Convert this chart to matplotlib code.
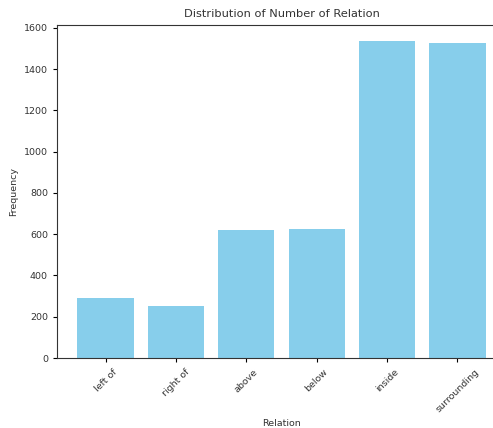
import matplotlib
matplotlib.use('Agg')
import matplotlib.pyplot as plt

# ----------------- Data -----------------
relations = ['left of', 'right of', 'above', 'below', 'inside', 'surrounding']
counts = [290, 254, 618, 624, 1537, 1527]

# ----------------- Plot -----------------
W, H = 493, 428
fig = plt.figure(figsize=(W / 100, H / 100), dpi=100)
# axes runs off the right edge, like the cropped screenshot
ax = fig.add_axes([57 / W, (H - 358) / H, (506 - 57) / W, (358 - 25) / H])

ax.bar(relations, counts, color='skyblue')
ax.set_title('Distribution of Number of Relation', fontsize=8.2, color='#333333')
ax.set_xlabel('Relation', fontsize=6.8, color='#333333')
ax.set_ylabel('Frequency', fontsize=6.8, color='#333333')
ax.tick_params(labelsize=6.8, labelcolor='#333333', length=3)
plt.setp(ax.get_xticklabels(), rotation=45)
for s in ax.spines.values():
    s.set_color('#333333')
ax.spines['right'].set_visible(False)  # cut off in the reference

fig.savefig('out.png', dpi=100)
